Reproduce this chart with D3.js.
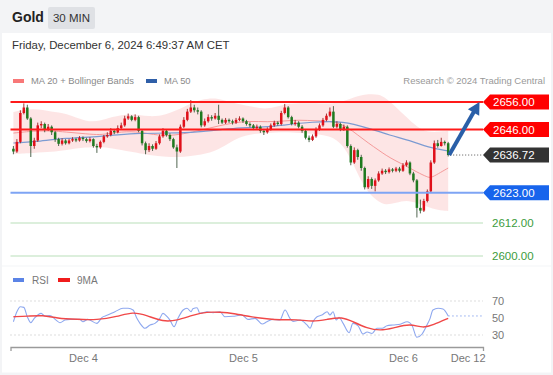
<!DOCTYPE html>
<html><head><meta charset="utf-8">
<script src="https://cdn.jsdelivr.net/npm/d3@7"></script>
<style>html,body{margin:0;padding:0;background:#fff;}svg{display:block;font-family:"Liberation Sans",Arial,sans-serif;}</style>
</head><body><svg id="c" width="553" height="375"></svg>
<script>
// ---------- DATA ----------
const title = "Gold";
const timeframe = "30 MIN";
const dateText = "Friday, December 6, 2024 6:49:37 AM CET";
const credit = "Research © 2024 Trading Central";
const firstOpen = 2639;
const closes = [2638,2641.5,2652,2654,2650,2640,2642,2647.5,2648,2646,2647,2645,2642.5,2640.8,2642,2641,2642,2642.5,2642,2643,
2642.5,2641.8,2642.5,2640,2639.5,2641.5,2643.5,2644,2645.5,2645,2646.5,2647.5,2650,2650.8,2649.5,2650.5,2645.5,2641,2638.5,2640,
2639,2641,2643.5,2645.5,2644,2642.5,2639.5,2638,2647,2649.5,2652.5,2654,2653,2652.5,2647.5,2649,2650.5,2650,2651,2649.5,
2648.5,2649.5,2649,2648.5,2649.5,2650,2649,2648,2647.5,2646.5,2647,2645.5,2645,2646,2647.5,2648.5,2648,2652,2654,2650.5,
2648,2648.5,2647,2645.5,2643,2642.2,2643.5,2646,2647.5,2649.5,2651,2652.5,2647,2648,2646,2647,2640,2634,2638.5,2636,
2632,2625,2628,2625.5,2627.5,2630,2631,2630.5,2631.5,2631,2631.8,2631,2633,2634,2630,2627.5,2617.5,2616.5,2620,2623.5,
2634,2641,2640,2641.5,2641,2636.72];
const highs = [2640,2642.5,2653,2655.5,2655,2650.5,2643,2648.5,2649,2648.5,2648,2647.5,2645.5,2643,2642.8,2642.5,2642.6,2643.2,2643,2643.6,
2643.5,2643,2643.2,2642.8,2640.8,2642,2644,2645,2646.5,2646.2,2647.5,2648.5,2651,2651.8,2651.2,2651.5,2651,2646,2641.6,2641,
2640.6,2641.8,2644.2,2646.5,2646,2644.6,2643,2640.5,2647.8,2650.5,2653.5,2656.7,2655,2654,2653,2650,2651.5,2651.2,2652,2655,
2650,2650.2,2650,2649.6,2650.2,2650.8,2650.4,2649.5,2648.6,2648,2647.8,2647.5,2646.2,2646.8,2648.2,2649.2,2649,2652.8,2655.3,2654.5,
2651,2649.5,2649,2647.6,2646,2643.8,2644.2,2646.8,2648.2,2650.2,2651.8,2654,2654.5,2649,2648.5,2647.8,2647.5,2640.6,2639.5,2639,
2636.8,2632.5,2629,2628.6,2628.2,2630.8,2631.8,2631.6,2632.2,2632,2632.4,2632.4,2633.8,2634.8,2634.4,2630.6,2628,2620.5,2620.8,2624.2,
2634.8,2642,2642.2,2643,2642,2641.5];
const lows = [2637,2637.5,2641,2651.5,2649.5,2636,2639,2641.5,2646.5,2645,2645.5,2644,2641.5,2640,2640.2,2640.5,2640.6,2641.5,2641.4,2641.6,
2641.8,2641.2,2641.3,2639.4,2637.5,2639,2641,2643,2643.5,2644.3,2644.6,2646,2647,2649.5,2649,2649,2645,2640.2,2637,2637.8,
2638.2,2638.6,2640.5,2643,2643.4,2641.8,2639,2632,2637.5,2646.5,2649,2652,2652.2,2651.5,2646.8,2647,2648.5,2649.2,2649.6,2648,
2648,2648,2648.4,2647.8,2648,2649,2648.4,2647.4,2646.8,2645.8,2646,2644.8,2644,2644.5,2645.6,2647,2647.4,2647.5,2651.5,2650,
2647.5,2647.4,2646.4,2644.8,2642.4,2641.4,2641.8,2643,2645.5,2647,2649,2650.5,2646.5,2646.4,2645.4,2645.5,2639.4,2633,2633.5,2635,
2631,2624.2,2624.4,2624.4,2623.5,2627,2629.5,2629.8,2630,2630.4,2630.5,2630.4,2630.6,2632.5,2629.4,2626.8,2614,2615.5,2616,2619.5,
2623,2633.5,2639.4,2639.8,2640.2,2636.2];

const bandIdx = [0,6,11,15,21,25,28,34,39,44,49,54,59,63,68,73,78,82,87,92,96,99,102,105,107,110,113,116,119,122,125];
const bbUpper = [2652.4,2653.8,2652.4,2652,2648.7,2649.1,2650.5,2652,2650.5,2651.3,2654.2,2657.1,2657.5,2655.6,2654.5,2653.1,2655.3,2655.6,2655.6,2655.3,2656.7,2658.2,2658.9,2658.9,2657.5,2654.2,2650.5,2646.9,2645.1,2645.1,2645.5];
const bbLower = [2637.1,2637.5,2637.8,2638.5,2639.6,2639.6,2639.3,2637.8,2636.7,2636,2636,2636.7,2638.5,2642.2,2644.4,2644.7,2645.1,2644.7,2644.4,2643.6,2638.5,2629.5,2622.9,2619.6,2618.5,2619.3,2620.4,2619.3,2617.8,2616.7,2616.4];
const ma20Idx = [0,6,11,15,21,25,28,34,39,44,49,54,59,63,68,73,78,82,87,92,96,99,102,105,107,110,113,116,119,120,122,125];
const ma20 = [2644.7,2645.5,2645.5,2645.1,2644.4,2644,2644.7,2645.5,2644.4,2643.6,2644.4,2645.8,2647.3,2648.4,2649.1,2648.7,2649.1,2649.5,2649.1,2649.1,2646.9,2644,2641.1,2638.5,2636.7,2634.5,2632.7,2630.5,2628.7,2628.4,2629.8,2632];
const ma50Idx = [0,6,15,25,34,49,54,63,73,77,86,95,102,108,115,119,125];
const ma50 = [2641.1,2641.5,2642.9,2643.4,2644.7,2644.7,2645.2,2646.5,2646.9,2647.5,2648.8,2649.1,2646.5,2644,2641.6,2639.6,2638.2];

const rsiIdx = [0,1,2,3,4,5,6,8,9,10.5,12,13.4,14.8,16.3,19.1,20,21.4,24,25.5,26.9,29.2,31.5,33,34.4,35.5,36.4,37.8,39.3,40.7,42.1,43,44.2,45,46.2,47.3,48.8,49.9,51.1,51.6,52.8,53.6,55.7,57.4,59.4,60.8,63.1,65.7,67.4,69.5,71.5,72.9,74.6,76.6,78.1,79.5,80.4,82.4,84.4,85.3,86.1,87.3,88.7,90.2,91,91.9,92.8,93.6,94.8,96.5,97.6,99.1,100.5,101.7,103.1,104.5,106,107.4,109.1,111.2,113.2,114.6,116,117.5,118.9,119.8,120.6,122.1,123.5,125];
const rsiVal = [45.6,57.4,63.3,62.5,51.5,44.5,49.6,55.5,52.4,53,48.4,44.5,47.6,48.4,48.4,45.6,48.4,43.7,50.8,53.1,57.4,61.4,61.4,59.4,49.6,43.7,37.9,41.8,43.7,49.6,55.5,51.5,47.5,39.8,49.6,59.4,61.4,57.4,61,62.1,55.5,57.4,56.3,57.4,51.5,52,53.5,48.4,49.6,43,45.6,48.4,47.6,59.4,49.6,46,47.6,41.8,37.9,45.6,51.5,53.5,57.4,53.5,57.4,47.6,50.8,43.7,32.7,43.7,40.8,31.2,33.5,31.8,37.9,37.9,40.8,41.8,42.7,45.6,41.2,27.3,31.2,41.8,49.6,59.4,61.4,60.6,52.4];
const maRsiIdx = [0,4,8.6,12.5,18.3,24,29.8,34.4,38.4,43,47,51.6,55.7,59.4,63.1,68.9,72.9,76.6,81.5,86.1,90.2,94.5,97.6,101.7,105.4,109.1,114,117.8,120.6,125];
const maRsiVal = [51.5,52,53.5,49.6,48.4,47.6,51.5,57.4,53,45.6,47,53.5,57.4,56.8,55.5,50.8,49,47.6,48.4,45.6,48.4,51.5,45.6,37.9,35.1,37.9,43.7,37.9,41.8,49.6];

const redLevels = [2656, 2646];
const blueLevels = [2623];
const greenLevels = [2612, 2600];
const lastPrice = 2636.72;
const targetPrice = 2656;
const rsiTicks = [70, 50, 30];
const rsiGuides = [70, 30];
const dateTickIdx = [20, 66, 112, 130.6];
const dateTickLabels = ["Dec 4", "Dec 5", "Dec 6", "Dec 12"];

// ---------- SCALES ----------
const svg = d3.select("#c");
const x = d3.scaleLinear().domain([0, 125]).range([13.4, 448.2]);
const y = d3.scaleLinear().domain([2600, 2656]).range([256, 102]);
const yr = d3.scaleLinear().domain([30, 70]).range([335, 301]);
const xL = 10.5, xR = 483;

// ---------- FRAME ----------
svg.append("rect").attr("x",0).attr("y",0).attr("width",553).attr("height",375).attr("fill","#f3f4f6");
svg.append("rect").attr("x",2).attr("y",33).attr("width",549).attr("height",232.5).attr("fill","#fff");
svg.append("rect").attr("x",2).attr("y",266.5).attr("width",549).attr("height",106).attr("fill","#fff");

svg.append("text").attr("x",12).attr("y",22).attr("font-size",14).attr("font-weight","bold").attr("fill","#222").text(title);
svg.append("rect").attr("x",48).attr("y",7).attr("width",47).attr("height",22).attr("rx",2).attr("fill","#dfe1e5");
svg.append("text").attr("x",71.5).attr("y",22).attr("text-anchor","middle").attr("font-size",11.5).attr("fill","#333").text(timeframe);
svg.append("text").attr("x",12).attr("y",49).attr("font-size",11.4).attr("fill","#333").text(dateText);

// legend
svg.append("rect").attr("x",13).attr("y",79).attr("width",11).attr("height",4).attr("fill","#f87878");
svg.append("text").attr("x",31).attr("y",84).attr("font-size",9.4).attr("fill","#8a8a8a").text("MA 20 + Bollinger Bands");
svg.append("rect").attr("x",146).attr("y",79).attr("width",11).attr("height",4).attr("fill","#2f5fa8");
svg.append("text").attr("x",164).attr("y",84).attr("font-size",9.4).attr("fill","#8a8a8a").text("MA 50");
svg.append("text").attr("x",545).attr("y",84).attr("text-anchor","end").attr("font-size",9.5).attr("fill","#999").text(credit);

// ---------- BANDS / MAs ----------
const bandData = bandIdx.map((d,i)=>({i:d,u:bbUpper[i],l:bbLower[i]}));
svg.append("path").datum(bandData)
  .attr("d", d3.area().x(d=>x(d.i)).y0(d=>y(d.l)).y1(d=>y(d.u)).curve(d3.curveBasis))
  .attr("fill","#fde2e2").attr("opacity",0.9);
svg.append("path").datum(ma20Idx.map((d,i)=>[d,ma20[i]]))
  .attr("d", d3.line().x(d=>x(d[0])).y(d=>y(d[1])).curve(d3.curveBasis))
  .attr("fill","none").attr("stroke","#f59a9a").attr("stroke-width",1);
svg.append("path").datum(ma50Idx.map((d,i)=>[d,ma50[i]]))
  .attr("d", d3.line().x(d=>x(d[0])).y(d=>y(d[1])).curve(d3.curveBasis))
  .attr("fill","none").attr("stroke","#7c9bd2").attr("stroke-width",1.2);

// ---------- LEVEL LINES ----------
greenLevels.forEach(v=>{
  svg.append("line").attr("x1",xL).attr("x2",xR).attr("y1",y(v)).attr("y2",y(v)).attr("stroke","#b9dfb9").attr("stroke-width",1);
  svg.append("text").attr("x",492).attr("y",y(v)+4).attr("font-size",11.5).attr("fill","#3c9c3c").text(v.toFixed(2));
});

// ---------- CANDLES ----------
const candles = closes.map((c,i)=>({i, o: i===0?firstOpen:closes[i-1], c, h:highs[i], l:lows[i]}));
const cg = svg.append("g");
cg.selectAll("line.w").data(candles).join("line").attr("class","w")
  .attr("x1",d=>x(d.i)).attr("x2",d=>x(d.i)).attr("y1",d=>y(d.h)).attr("y2",d=>y(d.l))
  .attr("stroke",d=>d.c>=d.o?"#9a2020":"#3d553d").attr("stroke-width",0.9);
cg.selectAll("rect.b").data(candles).join("rect").attr("class","b")
  .attr("x",d=>x(d.i)-1.25).attr("width",2.5)
  .attr("y",d=>y(Math.max(d.o,d.c))).attr("height",d=>Math.max(1,Math.abs(y(d.o)-y(d.c))))
  .attr("fill",d=>d.c>=d.o?"#e0101a":"#1f7a1f");

// red and blue levels drawn over
function tagPath(yc){ return `M${xR},${yc} L${xR+7},${yc-7.5} L549,${yc-7.5} L549,${yc+7.5} L${xR+7},${yc+7.5} Z`; }
blueLevels.forEach(v=>{
  svg.append("line").attr("x1",xL).attr("x2",xR).attr("y1",y(v)).attr("y2",y(v)).attr("stroke","#7ea4f4").attr("stroke-width",2);
  svg.append("path").attr("d",tagPath(y(v))).attr("fill","#1764ec");
  svg.append("text").attr("x",493).attr("y",y(v)+4).attr("font-size",11.5).attr("fill","#fff").text(v.toFixed(2));
});
redLevels.forEach(v=>{
  svg.append("line").attr("x1",xL).attr("x2",xR).attr("y1",y(v)).attr("y2",y(v)).attr("stroke","#ff1a1a").attr("stroke-width",2);
  svg.append("path").attr("d",tagPath(y(v))).attr("fill","#ff0000");
  svg.append("text").attr("x",493).attr("y",y(v)+4).attr("font-size",11.5).attr("fill","#fff").text(v.toFixed(2));
});
// last price
svg.append("line").attr("x1",x(125)+2).attr("x2",xR).attr("y1",y(lastPrice)).attr("y2",y(lastPrice))
  .attr("stroke","#555").attr("stroke-width",1).attr("stroke-dasharray","1,2");
svg.append("path").attr("d",tagPath(y(lastPrice))).attr("fill","#333");
svg.append("text").attr("x",493).attr("y",y(lastPrice)+4).attr("font-size",11.5).attr("fill","#fff").text(lastPrice.toFixed(2));

// arrow
{
  const x0 = x(125)+1, y0 = y(lastPrice), x1 = x(134), y1 = y(targetPrice);
  const dx = x1-x0, dy = y1-y0, len = Math.hypot(dx,dy), ux = dx/len, uy = dy/len;
  const hl = 12, hw = 6.5;
  const bx = x1-ux*hl, by = y1-uy*hl;
  svg.append("line").attr("x1",x0).attr("y1",y0).attr("x2",bx+ux).attr("y2",by+uy).attr("stroke","#2a5fa8").attr("stroke-width",4);
  svg.append("path").attr("d",`M${x1},${y1} L${bx-uy*hw},${by+ux*hw} L${bx+uy*hw},${by-ux*hw} Z`).attr("fill","#2a5fa8");
}

// ---------- RSI PANEL ----------
svg.append("rect").attr("x",13).attr("y",278).attr("width",11).attr("height",4).attr("fill","#5b84e6");
svg.append("text").attr("x",32).attr("y",283.5).attr("font-size",10).attr("fill","#777").text("RSI");
svg.append("rect").attr("x",58).attr("y",278).attr("width",12).attr("height",4).attr("fill","#f01c1c");
svg.append("text").attr("x",77).attr("y",283.5).attr("font-size",10).attr("fill","#777").text("9MA");

rsiGuides.forEach(v=>{
  svg.append("line").attr("x1",xL).attr("x2",xR).attr("y1",yr(v)).attr("y2",yr(v)).attr("stroke","#bbb").attr("stroke-dasharray","1,3");
});
const ra = svg.append("g").attr("transform",`translate(${xR+3},0)`)
  .call(d3.axisRight(yr).tickValues(rsiTicks).tickSize(0).tickPadding(6));
ra.select(".domain").remove();
ra.selectAll("text").attr("font-size",11).attr("fill","#777").attr("font-family","Liberation Sans, Arial, sans-serif");

svg.append("path").datum(rsiIdx.map((d,i)=>[d,rsiVal[i]]))
  .attr("d", d3.line().x(d=>x(d[0])).y(d=>yr(d[1])).curve(d3.curveMonotoneX))
  .attr("fill","none").attr("stroke","#8ea8ef").attr("stroke-width",1.1);
svg.append("line").attr("x1",x(125)).attr("x2",xR).attr("y1",yr(rsiVal[rsiVal.length-1])).attr("y2",yr(rsiVal[rsiVal.length-1]))
  .attr("stroke","#8ea8ef").attr("stroke-dasharray","1.5,2.5");
svg.append("path").datum(maRsiIdx.map((d,i)=>[d,maRsiVal[i]]))
  .attr("d", d3.line().x(d=>x(d[0])).y(d=>yr(d[1])).curve(d3.curveBasis))
  .attr("fill","none").attr("stroke","#f04848").attr("stroke-width",1.4);

// ---------- X AXIS ----------
const xa = d3.scaleLinear().domain([x.invert(xL), x.invert(xR)]).range([xL, xR]);
const ax = svg.append("g").attr("transform","translate(0,347)")
  .call(d3.axisBottom(xa).tickValues(dateTickIdx).tickFormat((d,i)=>dateTickLabels[i]).tickSizeInner(0).tickSizeOuter(4).tickPadding(7));
ax.select(".domain").attr("stroke","#9a9a9a").attr("stroke-width",1.3);
ax.selectAll("text").attr("font-size",11).attr("fill","#777").attr("font-family","Liberation Sans, Arial, sans-serif");
</script></body></html>
